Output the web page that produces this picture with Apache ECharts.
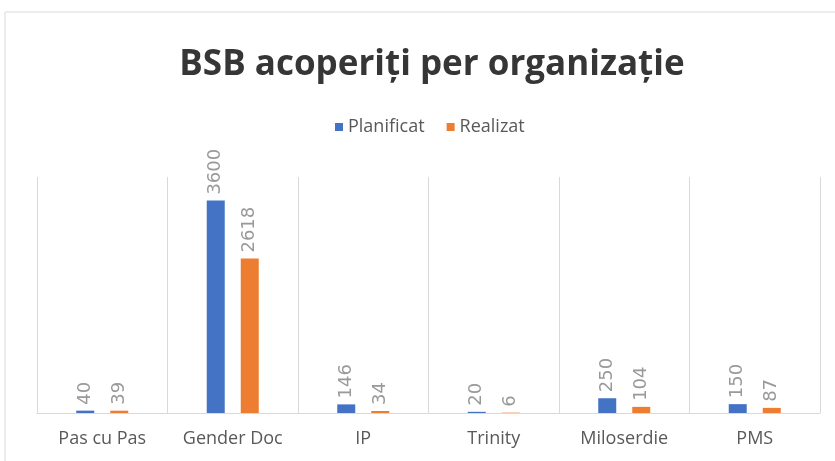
<!DOCTYPE html>
<html>
<head>
<meta charset="utf-8">
<script src="https://cdn.jsdelivr.net/npm/echarts@6/dist/echarts.min.js"></script>
<style>
  html, body { margin: 0; padding: 0; background: #fff; }
  #chart { width: 835px; height: 461px; }
</style>
</head>
<body>
<div id="chart"></div>
<script>
// date
var categories = ["Pas cu Pas", "Gender Doc", "IP", "Trinity", "Miloserdie", "PMS"];
var planificat = [40, 3600, 146, 20, 250, 150];
var realizat = [39, 2618, 34, 6, 104, 87];

var chart = echarts.init(document.getElementById("chart"), null, { renderer: "canvas" });

var labelStyle = {
  show: true,
  position: "top",
  rotate: 90,
  align: "left",
  verticalAlign: "middle",
  distance: 6,
  color: "#999999",
  fontSize: 18,
  fontFamily: "DejaVu Sans"
};

var option = {
  animation: false,
  textStyle: { fontFamily: "Open Sans" },
  graphic: [
    {
      type: "rect",
      shape: { x: 5, y: 12, width: 840, height: 460 },
      style: { fill: "none", stroke: "#d9d9d9", lineWidth: 1 }
    }
  ],
  title: {
    text: "BSB acoperiți per organizație",
    left: 427,
    textAlign: "center",
    top: 43,
    textStyle: { fontSize: 35, fontWeight: "bold", color: "#363636", fontFamily: "Open Sans" }
  },
  legend: {
    top: 113,
    left: 330,
    icon: "rect",
    itemWidth: 8,
    itemHeight: 8,
    itemGap: 22,
    textStyle: { fontSize: 18, color: "#595959", fontFamily: "Open Sans" },
    data: ["Planificat", "Realizat"]
  },
  grid: { left: 37, right: 15, top: 177, bottom: 48 },
  xAxis: {
    type: "category",
    data: categories,
    axisLine: { lineStyle: { color: "#d9d9d9" } },
    axisTick: { show: false },
    axisLabel: { color: "#595959", fontSize: 18, margin: 17 },
    splitLine: { show: true, lineStyle: { color: "#d9d9d9" } }
  },
  yAxis: {
    type: "value",
    min: 0,
    max: 4000,
    show: false
  },
  series: [
    {
      name: "Planificat",
      type: "bar",
      data: planificat,
      barWidth: 18,
      barGap: "89%",
      itemStyle: { color: "#4472c4" },
      label: labelStyle
    },
    {
      name: "Realizat",
      type: "bar",
      data: realizat,
      barWidth: 18,
      itemStyle: { color: "#ed7d31" },
      label: labelStyle
    }
  ]
};

chart.setOption(option);
</script>
</body>
</html>
